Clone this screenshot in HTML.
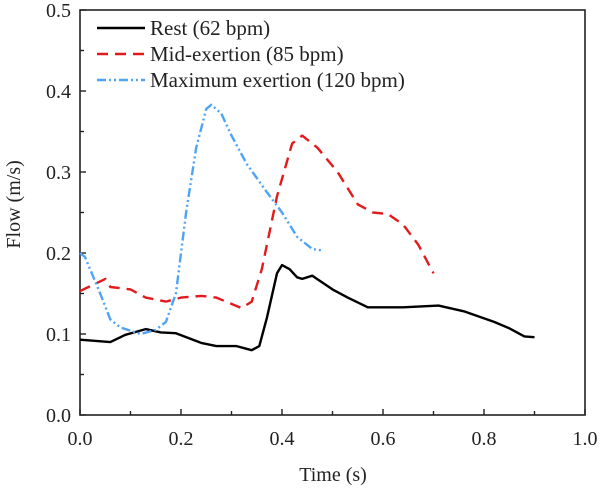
<!DOCTYPE html>
<html><head><meta charset="utf-8"><style>
body{margin:0;background:#fff;}
svg text{font-family:"Liberation Serif",serif;fill:#222;}
</style></head><body>
<svg id="chart" width="600" height="486" viewBox="0 0 600 486" xmlns="http://www.w3.org/2000/svg"></svg>
<script>
const xTicks=[0,0.2,0.4,0.6,0.8,1.0];
const yTicks=[0,0.1,0.2,0.3,0.4,0.5];
const restT=[0,0.06,0.09,0.13,0.16,0.19,0.24,0.27,0.31,0.34,0.355,0.37,0.39,0.40,0.415,0.43,0.44,0.46,0.50,0.53,0.57,0.64,0.71,0.76,0.82,0.85,0.88,0.90];
const restV=[0.093,0.090,0.099,0.106,0.102,0.101,0.089,0.085,0.085,0.080,0.085,0.12,0.175,0.185,0.180,0.170,0.168,0.172,0.155,0.145,0.133,0.133,0.135,0.128,0.115,0.107,0.097,0.096];
const midT=[0,0.05,0.06,0.10,0.13,0.17,0.20,0.24,0.27,0.32,0.34,0.36,0.39,0.42,0.44,0.47,0.51,0.55,0.58,0.61,0.64,0.67,0.70];
const midV=[0.153,0.168,0.158,0.155,0.145,0.140,0.145,0.147,0.145,0.132,0.140,0.180,0.270,0.335,0.345,0.330,0.300,0.260,0.250,0.248,0.235,0.210,0.175];
const maxT=[0,0.01,0.04,0.06,0.08,0.12,0.15,0.17,0.19,0.21,0.23,0.25,0.26,0.28,0.30,0.33,0.37,0.40,0.43,0.46,0.48];
const maxV=[0.200,0.195,0.150,0.118,0.108,0.100,0.105,0.115,0.150,0.250,0.330,0.378,0.383,0.372,0.345,0.310,0.275,0.250,0.220,0.205,0.203];
const NS="http://www.w3.org/2000/svg";
const svg=document.getElementById('chart');
const L=80,R=585,T=10,B=415;
const sx=v=>L+v*(R-L);
const sy=v=>B-v*(B-T)/0.5;
function mk(tag,a){const e=document.createElementNS(NS,tag);for(const k in a)e.setAttribute(k,a[k]);svg.appendChild(e);return e;}
let f=mk('rect',{x:L,y:T,width:R-L,height:B-T,fill:'none',stroke:'#222','stroke-width':1.6});


for(let i=0;i<=10;i++){const v=i/10;const major=i%2===0;
 let t=mk('line',{x1:sx(v),x2:sx(v),y1:B,y2:B-(major?6:4),stroke:'#222','stroke-width':1.4});
 
 }
xTicks.forEach(v=>{let t=mk('text',{x:sx(v),y:B+30,'text-anchor':'middle','font-size':20});t.textContent=v.toFixed(1);
 
 });
for(let i=0;i<=10;i++){const v=i*0.05;const major=i%2===0;
 let t=mk('line',{x1:L,x2:L+(major?6:4),y1:sy(v),y2:sy(v),stroke:'#222','stroke-width':1.4});
 
 }
yTicks.forEach(v=>{let t=mk('text',{x:L-9,y:sy(v)+7,'text-anchor':'end','font-size':20});t.textContent=v.toFixed(1);
 
 });
let xt=mk('text',{x:333,y:481,'text-anchor':'middle','font-size':20});xt.textContent='Time (s)';


let yt=mk('text',{x:0,y:0,'text-anchor':'middle','font-size':20,transform:'translate(20,'+(sy(0.26))+') rotate(-90)'});yt.textContent='Flow (m/s)';


function series(ts,vs,color,dash,name){
 const d=ts.map((t,i)=>(i?'L':'M')+sx(t).toFixed(1)+','+sy(vs[i]).toFixed(1)).join(' ');
 let p=mk('path',{d:d,fill:'none',stroke:color,'stroke-width':2.4,'stroke-dasharray':dash,'stroke-linejoin':'round'});
 
 
}
series(restT,restV,'#000','none','rest-line');
series(midT,midV,'#e31a1c','11,7','mid-exertion-line');
series(maxT,maxV,'#4fa3f7','9,3,2,3,2,3','max-exertion-line');
const leg=[['Rest (62 bpm)','#000','none'],['Mid-exertion (85 bpm)','#e31a1c','11,7'],['Maximum exertion (120 bpm)','#4fa3f7','9,3,2,3,2,3']];
leg.forEach((l,i)=>{const y=28+i*26;
 let ln=mk('line',{x1:97,x2:145,y1:y,y2:y,stroke:l[1],'stroke-width':2.4,'stroke-dasharray':l[2]});
 
 
 let tx=mk('text',{x:150,y:y+7,'font-size':21});tx.textContent=l[0];
 
 
});
</script>
</body></html>
